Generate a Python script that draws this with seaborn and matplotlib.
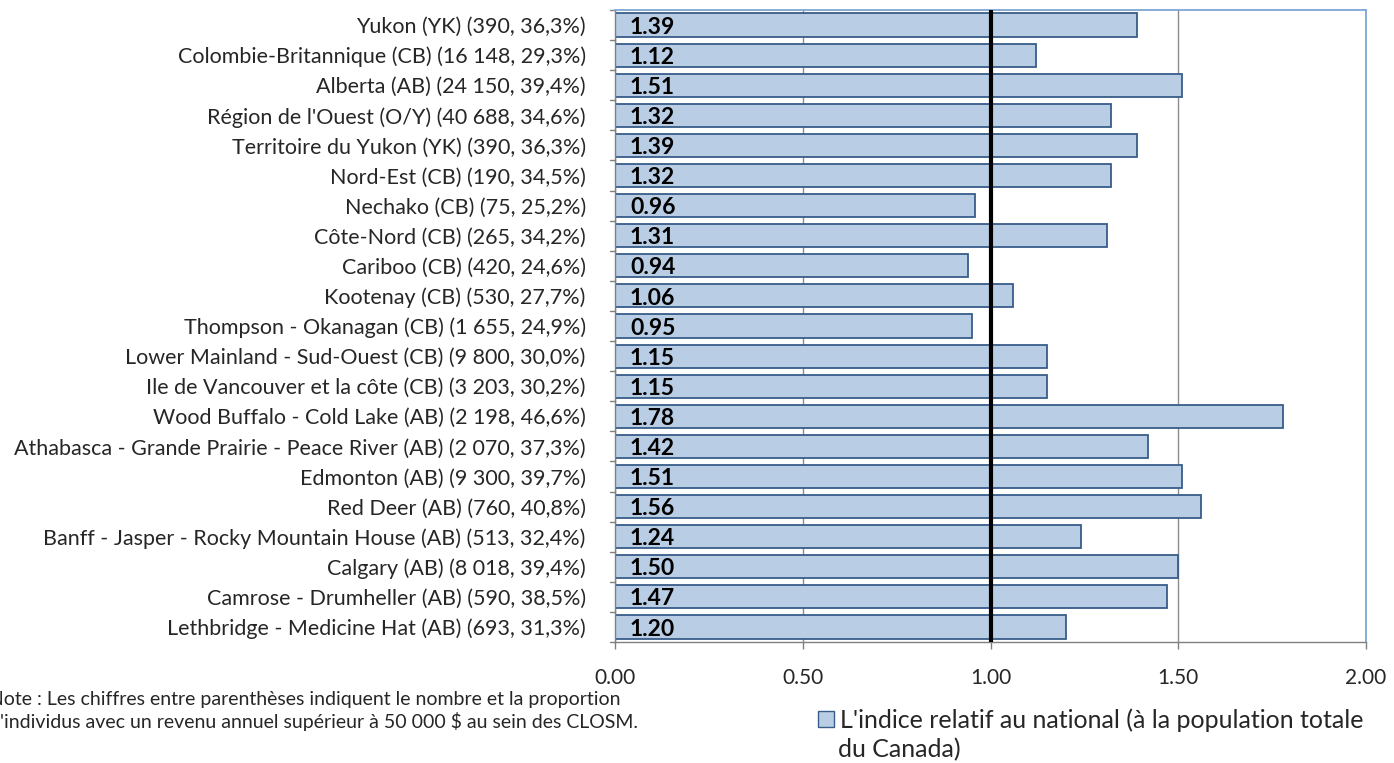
import matplotlib
matplotlib.use('Agg')
import matplotlib.pyplot as plt
import seaborn as sns
import pandas as pd
from matplotlib.patches import Patch

regions = [
    "Yukon (YK) (390, 36,3%)",
    "Colombie-Britannique (CB) (16 148, 29,3%)",
    "Alberta (AB) (24 150, 39,4%)",
    "Région de l'Ouest (O/Y) (40 688, 34,6%)",
    "Territoire du Yukon (YK) (390, 36,3%)",
    "Nord-Est (CB) (190, 34,5%)",
    "Nechako (CB) (75, 25,2%)",
    "Côte-Nord (CB) (265, 34,2%)",
    "Cariboo (CB) (420, 24,6%)",
    "Kootenay (CB) (530, 27,7%)",
    "Thompson - Okanagan (CB) (1 655, 24,9%)",
    "Lower Mainland - Sud-Ouest (CB) (9 800, 30,0%)",
    "Ile de Vancouver et la côte (CB) (3 203, 30,2%)",
    "Wood Buffalo - Cold Lake (AB) (2 198, 46,6%)",
    "Athabasca - Grande Prairie - Peace River (AB) (2 070, 37,3%)",
    "Edmonton (AB) (9 300, 39,7%)",
    "Red Deer (AB) (760, 40,8%)",
    "Banff - Jasper - Rocky Mountain House (AB) (513, 32,4%)",
    "Calgary (AB) (8 018, 39,4%)",
    "Camrose - Drumheller (AB) (590, 38,5%)",
    "Lethbridge - Medicine Hat (AB) (693, 31,3%)",
]
index_values = [1.39, 1.12, 1.51, 1.32, 1.39, 1.32, 0.96, 1.31, 0.94, 1.06,
                0.95, 1.15, 1.15, 1.78, 1.42, 1.51, 1.56, 1.24, 1.50, 1.47, 1.20]
x_ticks = [0.0, 0.5, 1.0, 1.5, 2.0]
legend_label = "L'indice relatif au national (à la population totale"
legend_label_2 = "du Canada)"
note_text = ("Note : Les chiffres entre parenthèses indiquent le nombre et la proportion\n"
             "d'individus avec un revenu annuel supérieur à 50 000 $ au sein des CLOSM.")

df = pd.DataFrame({'region': regions, 'indice': index_values})

sns.set_theme(style="white")
plt.rcParams['font.family'] = ['Lato', 'DejaVu Sans']

fig = plt.figure(figsize=(13.94, 7.63), dpi=100)
ax = fig.add_axes([615 / 1394, 1 - 642 / 763, 751 / 1394, 632 / 763])

sns.barplot(data=df, y='region', x='indice', orient='h', order=regions,
            color='#B9CDE5', edgecolor='#385D8A', linewidth=1.3,
            width=0.77, saturation=1, ax=ax)

ax.set_xlim(0, 2)
ax.set_ylim(len(regions) - 0.5, -0.5)
ax.set_xticks(x_ticks)
ax.set_xticklabels([f"{t:.2f}" for t in x_ticks], fontsize=15)
ax.tick_params(axis='x', pad=14, length=5, width=1, color='#808080', direction='out', bottom=True)
ax.tick_params(axis='y', labelsize=15.5, length=0, pad=21)
ax.set_xlabel('')
ax.set_ylabel('')

# category boundary ticks on the left axis
for b in range(len(regions) + 1):
    ax.plot([-0.012, 0], [b - 0.5, b - 0.5], color='#808080', lw=1, clip_on=False)

ax.grid(axis='x', color='#8C8C8C', linewidth=1)
ax.set_axisbelow(True)
for side in ['left', 'bottom']:
    ax.spines[side].set_color('#808080')
    ax.spines[side].set_linewidth(1)
for side in ['top', 'right']:
    ax.spines[side].set_color('#7FA6D6')
    ax.spines[side].set_linewidth(1.3)

ax.axvline(1.0, color='black', linewidth=3, zorder=5)

for i, v in enumerate(index_values):
    ax.text(0.04, i + 0.07, f"{v:.2f}", va='center', ha='left',
            fontsize=16.5, fontweight='bold', color='black', zorder=6)

fig.text(-0.008, 1 - 711 / 763, note_text, fontsize=14, va='center', ha='left', linespacing=1.3)

handle = Patch(facecolor='#B9CDE5', edgecolor='#385D8A', linewidth=1)
leg = fig.legend([handle], [legend_label], loc='center left',
                 bbox_to_anchor=(818 / 1394, 1 - 720 / 763),
                 frameon=False, fontsize=18, handlelength=0.65, handleheight=0.65,
                 handletextpad=0.25, borderaxespad=0, borderpad=0)
fig.text(838 / 1394, 1 - 750 / 763, legend_label_2, fontsize=18, va='center', ha='left')

fig.savefig('out.png', dpi=100)
